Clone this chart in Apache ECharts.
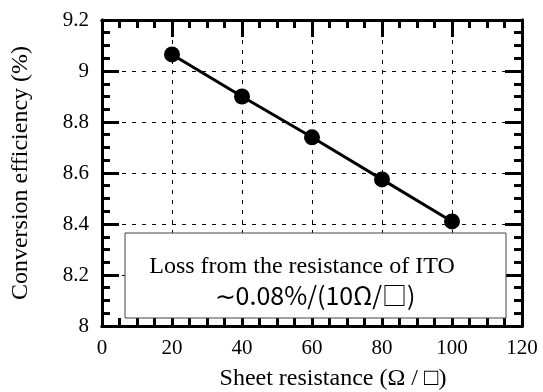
<!DOCTYPE html>
<html>
<head>
<meta charset="utf-8">
<script src="https://cdn.jsdelivr.net/npm/echarts@6/dist/echarts.min.js"></script>
<style>
  html, body { margin: 0; padding: 0; background: #fff; }
  #chart { width: 543px; height: 392px; }
</style>
</head>
<body>
<div id="chart"></div>
<script>
// sheet resistance (ohm/sq) vs conversion efficiency (%)
const resistance = [20, 40, 60, 80, 100];
const efficiency = [9.065, 8.90, 8.74, 8.575, 8.41];

const xTicks = { min: 0, max: 120, interval: 20, minor: 5 };
const yTicks = { min: 8, max: 9.2, interval: 0.2, minor: 0.05 };

const serif = '"Liberation Serif", "Times New Roman", serif';
const gridBox = { left: 102, right: 21, top: 20, bottom: 66, outerBoundsMode: 'none' };

// 刻度 内向，上下左右都有；小刻度放在第二个重叠的grid里
const tickAxis = (extra, len) => Object.assign({
    type: 'value',
    axisLine: { show: true, onZero: false, lineStyle: { color: '#000', width: 3 } },
    axisTick: { show: true, inside: true, length: len, lineStyle: { color: '#000', width: 3 } },
    axisLabel: { show: false },
    splitLine: { show: false }
}, extra);

const dashed = { show: true, lineStyle: { color: '#000', width: 1, type: [4, 6] } };

const chart = echarts.init(document.getElementById('chart'));
chart.setOption({
    animation: false,
    grid: [
        Object.assign({}, gridBox),
        Object.assign({}, gridBox)
    ],
    xAxis: [
        tickAxis({
            gridIndex: 0, position: 'bottom',
            min: xTicks.min, max: xTicks.max, interval: xTicks.interval,
            name: 'Sheet resistance (Ω / □)',
            nameLocation: 'middle',
            nameGap: 41,
            nameTextStyle: { color: '#000', fontFamily: serif, fontSize: 24, padding: [0, 0, 0, 42] },
            axisLabel: { show: true, color: '#000', fontFamily: serif, fontSize: 21, margin: 12 },
            splitLine: dashed
        }, 17),
        tickAxis({
            gridIndex: 0, position: 'top',
            min: xTicks.min, max: xTicks.max, interval: xTicks.interval
        }, 17),
        tickAxis({
            gridIndex: 1, position: 'bottom',
            min: xTicks.min, max: xTicks.max, interval: xTicks.minor
        }, 8),
        tickAxis({
            gridIndex: 1, position: 'top',
            min: xTicks.min, max: xTicks.max, interval: xTicks.minor
        }, 8)
    ],
    yAxis: [
        tickAxis({
            gridIndex: 0, position: 'left',
            min: yTicks.min, max: yTicks.max, interval: yTicks.interval,
            name: 'Conversion efficiency (%)',
            nameLocation: 'middle',
            nameGap: 69,
            nameTextStyle: { color: '#000', fontFamily: serif, fontSize: 24 },
            axisLabel: {
                show: true, color: '#000', fontFamily: serif, fontSize: 21, margin: 13,
                formatter: (v) => String(Math.round(v * 10) / 10)
            },
            splitLine: dashed
        }, 17),
        tickAxis({
            gridIndex: 0, position: 'right',
            min: yTicks.min, max: yTicks.max, interval: yTicks.interval
        }, 17),
        tickAxis({
            gridIndex: 1, position: 'left',
            min: yTicks.min, max: yTicks.max, interval: yTicks.minor
        }, 8),
        tickAxis({
            gridIndex: 1, position: 'right',
            min: yTicks.min, max: yTicks.max, interval: yTicks.minor
        }, 8)
    ],
    series: [{
        type: 'line',
        xAxisIndex: 0,
        yAxisIndex: 0,
        data: resistance.map((r, i) => [r, efficiency[i]]),
        symbol: 'circle',
        symbolSize: 16,
        itemStyle: { color: '#000' },
        lineStyle: { color: '#000', width: 3 },
        z: 5
    }],
    graphic: [
        {
            type: 'rect',
            z: 100,
            shape: { x: 125, y: 233, width: 381, height: 85 },
            style: { fill: '#fff', stroke: '#444', lineWidth: 1 }
        },
        {
            type: 'text',
            z: 101,
            x: 302, y: 267,
            style: {
                text: 'Loss from the resistance of ITO',
                fill: '#000', font: '24px ' + serif,
                textAlign: 'center', textVerticalAlign: 'middle'
            }
        },
        {
            type: 'text',
            z: 101,
            x: 315, y: 295,
            style: {
                text: '∼0.08%/(10Ω/□)',
                fill: '#000', font: '25px "Noto Sans CJK JP", "Liberation Sans", sans-serif',
                textAlign: 'center', textVerticalAlign: 'middle'
            }
        }
    ]
});
</script>
</body>
</html>
